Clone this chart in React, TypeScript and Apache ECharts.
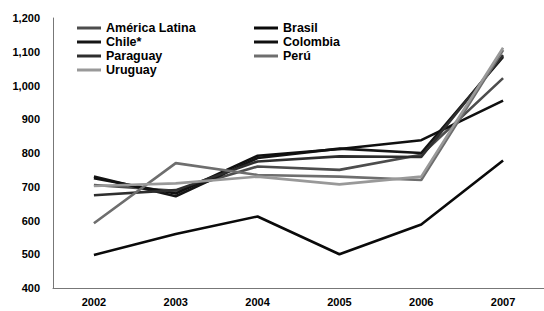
import React, { useEffect, useRef } from "react";
import * as echarts from "echarts";

const years = ["2002", "2003", "2004", "2005", "2006", "2007"];
const americaLatina = [705, 688, 760, 750, 795, 1022];
const brasil = [498, 560, 612, 500, 588, 778];
const chile = [730, 672, 785, 813, 800, 1085];
const colombia = [725, 680, 792, 812, 838, 955];
const paraguay = [675, 690, 775, 790, 788, 1090];
const peru = [592, 770, 735, 730, 720, 1105];
const uruguay = [702, 710, 730, 707, 730, 1112];

const seriesDefs = [
  { name: "América Latina", data: americaLatina, color: "#4d4d4d" },
  { name: "Brasil", data: brasil, color: "#0a0a0a" },
  { name: "Chile*", data: chile, color: "#151515" },
  { name: "Colombia", data: colombia, color: "#101010" },
  { name: "Paraguay", data: paraguay, color: "#2e2e2e" },
  { name: "Perú", data: peru, color: "#6e6e6e" },
  { name: "Uruguay", data: uruguay, color: "#999999" },
];

export default function App() {
  const ref = useRef<HTMLDivElement>(null);
  useEffect(() => {
    if (!ref.current) return;
    const chart = echarts.init(ref.current, undefined, { renderer: "svg" });
    const textStyle = {
      fontFamily: "Liberation Sans, Arial, sans-serif",
      fontWeight: "bold" as const,
      fontSize: 12,
      color: "#000",
    };
    const legendBase = {
      orient: "vertical",
      top: 21,
      padding: 0,
      icon: "rect",
      itemWidth: 24,
      itemHeight: 3,
      itemGap: 0,
      textStyle: { ...textStyle, fontSize: 12.5, lineHeight: 14 },
    };
    chart.setOption({
      animation: false,
      backgroundColor: "#fff",
      legend: [
        {
          ...legendBase,
          left: 77,
          data: ["América Latina", "Chile*", "Paraguay", "Uruguay"],
        },
        {
          ...legendBase,
          left: 254,
          data: ["Brasil", "Colombia", "Perú"],
        },
      ],
      grid: { left: 53, top: 18, bottom: 23, width: 510 },
      xAxis: {
        type: "category",
        data: years,
        boundaryGap: true,
        axisLine: { lineStyle: { color: "#777", width: 1 } },
        axisTick: { show: false },
        axisLabel: { ...textStyle, fontSize: 11, margin: 8 },
      },
      yAxis: {
        type: "value",
        min: 400,
        max: 1200,
        interval: 100,
        axisLine: { show: true, lineStyle: { color: "#777", width: 1 } },
        axisTick: { show: false },
        splitLine: { show: false },
        axisLabel: {
          ...textStyle,
          fontSize: 11,
          margin: 13,
          formatter: (v: number) => v.toLocaleString("en-US"),
        },
      },
      series: seriesDefs.map((s) => ({
        name: s.name,
        type: "line",
        data: s.data,
        symbol: "none",
        color: s.color,
        lineStyle: { color: s.color, width: 2.6 },
      })),
    });
    return () => chart.dispose();
  }, []);
  return (
    <div
      ref={ref}
      style={{ position: "fixed", left: 0, top: 0, width: 544, height: 311 }}
    />
  );
}
